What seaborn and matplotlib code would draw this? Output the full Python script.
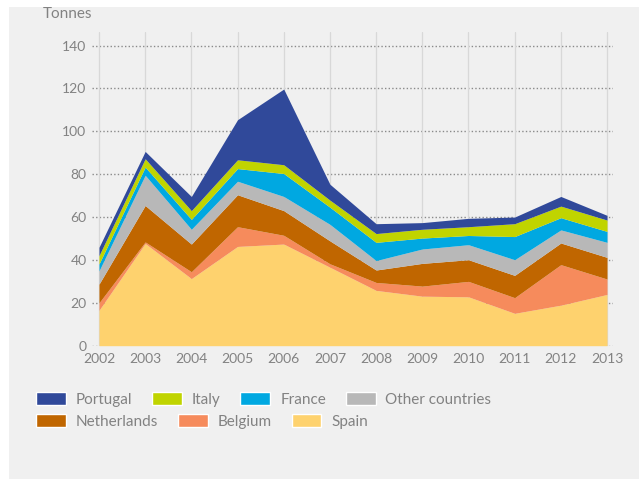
import matplotlib
matplotlib.use("Agg")
import matplotlib.pyplot as plt
import seaborn as sns
from matplotlib.patches import Rectangle, Patch

# values in tonnes
years = [2002, 2003, 2004, 2005, 2006, 2007, 2008, 2009, 2010, 2011, 2012, 2013]
spain = [16.5, 47.7, 31.3, 46.3, 47.4, 36.6, 25.8, 23.1, 22.8, 15.1, 18.9, 23.9]
belgium = [3.5, 0.7, 3.2, 9.2, 4.1, 1.6, 3.7, 4.7, 7.2, 7.3, 18.9, 7.2]
netherlands = [8.7, 17.0, 12.9, 14.9, 11.5, 10.7, 5.8, 10.6, 10.1, 10.4, 10.1, 10.1]
other = [6.2, 14.1, 6.9, 6.3, 6.6, 7.7, 4.4, 6.7, 7.0, 7.3, 6.1, 7.0]
france = [3.2, 3.8, 4.6, 5.9, 10.7, 8.0, 8.5, 5.1, 4.3, 10.8, 5.7, 5.1]
italy = [3.9, 3.9, 4.1, 4.1, 4.1, 3.3, 4.1, 4.1, 4.1, 6.0, 5.4, 5.3]
portugal = [3.9, 3.4, 6.6, 18.7, 35.3, 7.4, 4.6, 3.1, 3.9, 3.1, 4.5, 2.2]

labels = ['Spain', 'Belgium', 'Netherlands', 'Other countries', 'France', 'Italy', 'Portugal']
colors = ['#fed26e', '#f68b5c', '#c06600', '#b8b8b8', '#00a8e1', '#c0d400', '#30499a']
yticks = [0, 20, 40, 60, 80, 100, 120, 140]

sns.set_theme(style="white")
plt.rcParams['font.family'] = ['Lato', 'DejaVu Sans']
txt_color = '#828282'

fig = plt.figure(figsize=(6.39, 4.79), dpi=100)
fig.patch.set_facecolor('white')
# grey panel with thin white border on the top and left
fig.patches.append(Rectangle((9 / 639, 0), 1, 1 - 7 / 479, transform=fig.transFigure,
                             facecolor='#f0f0f0', edgecolor='none', zorder=-10))

ax = fig.add_axes([92 / 639, 1 - 345.7 / 479, (613 - 92) / 639, (345.7 - 32) / 479])
ax.set_facecolor('#f0f0f0')

ax.stackplot(years, spain, belgium, netherlands, other, france, italy, portugal,
             colors=colors, labels=labels, linewidth=0, zorder=3)

ax.set_xlim(2002 - 7 / 46.3, 2013 + 6 / 46.3)
ax.set_ylim(0, 146.3)
ax.set_xticks(years)
ax.set_yticks(yticks)
ax.tick_params(axis='both', length=0, labelsize=10, colors=txt_color)
ax.tick_params(axis='y', pad=4)
ax.tick_params(axis='x', pad=5)

ax.grid(False)
for y in yticks:
    ax.axhline(y, color='#8a8a8a', linewidth=1.0, linestyle=(0, (1, 1.6)), zorder=1)
for x in years:
    ax.axvline(x, color='#d8d8d8', linewidth=0.9, zorder=1)

for s in ax.spines.values():
    s.set_visible(False)

fig.text(43 / 639, 1 - 18 / 479, 'Tonnes', fontsize=11, color=txt_color, va='baseline')

color_of = dict(zip(labels, colors))
legend_kw = dict(frameon=False, borderpad=0, borderaxespad=0, handlelength=1.95,
                 handleheight=0.95, handletextpad=0.65, columnspacing=1.3,
                 fontsize=11, labelcolor=txt_color, loc='upper left')
row1 = ['Portugal', 'Italy', 'France', 'Other countries']
row2 = ['Netherlands', 'Belgium', 'Spain']
fig.legend(handles=[Patch(facecolor=color_of[n], label=n) for n in row1], ncol=4,
           bbox_to_anchor=(36 / 639, 1 - 392 / 479), **legend_kw)
fig.legend(handles=[Patch(facecolor=color_of[n], label=n) for n in row2], ncol=3,
           bbox_to_anchor=(36 / 639, 1 - 414 / 479), **legend_kw)

fig.savefig('out.png', dpi=100)
